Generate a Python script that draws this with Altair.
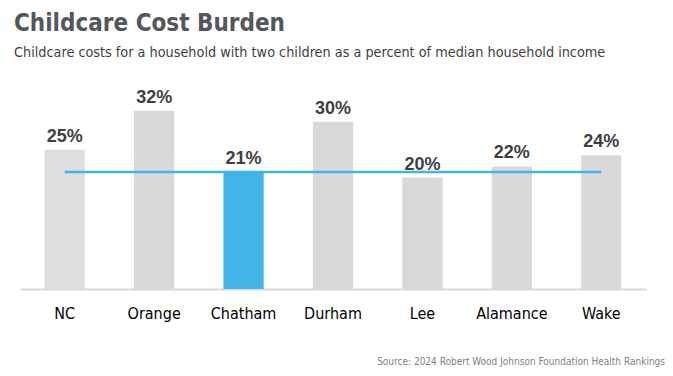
import altair as alt
import pandas as pd

categories = ["NC", "Orange", "Chatham", "Durham", "Lee", "Alamance", "Wake"]
values = [25, 32, 21, 30, 20, 22, 24]
labels = ["25%", "32%", "21%", "30%", "20%", "22%", "24%"]
highlight = "Chatham"
reference_value = 21

title_text = "Childcare Cost Burden"
subtitle_text = "Childcare costs for a household with two children as a percent of median household income"
source_text = "Source: 2024 Robert Wood Johnson Foundation Health Rankings"

NARROW = "DejaVu Sans Condensed"

df = pd.DataFrame({"county": categories, "value": values, "label": labels})
df["kind"] = ["state" if c == "NC" else ("focus" if c == highlight else "other") for c in categories]
ref_df = pd.DataFrame({"county": categories, "ref": [reference_value] * len(categories)})

x_enc = alt.X("county:N", sort=categories,
              scale=alt.Scale(paddingInner=0.55, paddingOuter=0.275),
              axis=alt.Axis(title=None, labelAngle=0, ticks=False, domain=True,
                            domainColor="#d9d9d9", domainWidth=2,
                            labelFont=NARROW, labelFontSize=16,
                            labelColor="#000000", labelPadding=16))
y_scale = alt.Scale(domain=[0, 35])

bars = alt.Chart(df).mark_bar().encode(
    x=x_enc,
    y=alt.Y("value:Q", scale=y_scale, axis=None),
    color=alt.Color("kind:N",
                    scale=alt.Scale(domain=["state", "focus", "other"],
                                    range=["#dedede", "#41b6e6", "#d9d9d9"]),
                    legend=None),
)

text = alt.Chart(df).mark_text(baseline="bottom", dy=-4, font="Liberation Sans",
                               fontWeight="bold", fontSize=18, color="#404040").encode(
    x=alt.X("county:N", sort=categories),
    y=alt.Y("value:Q", scale=y_scale),
    text="label:N",
)

ref_line = alt.Chart(ref_df).mark_line(color="#41b6e6", strokeWidth=2.5).encode(
    x=alt.X("county:N", sort=categories),
    y=alt.Y("ref:Q", scale=y_scale),
)

source = alt.Chart(pd.DataFrame({"t": [source_text]})).mark_text(
    align="right", baseline="alphabetic", font=NARROW, fontSize=10,
    color="#7f7f7f").encode(
    x=alt.value(645), y=alt.value(271), text="t:N")

chart = alt.layer(bars, ref_line, text, source).properties(
    width=626, height=195,
    background="white",
    title=alt.TitleParams(text=title_text, subtitle=subtitle_text, anchor="start",
                          dx=-6, offset=28,
                          font=NARROW, fontSize=24, fontWeight="bold",
                          color="#53565a", subtitleFont=NARROW,
                          subtitleFontSize=14.3, subtitleColor="#404040", subtitlePadding=10),
    padding={"left": 12, "top": 86, "right": 19, "bottom": 79},
    autosize=alt.AutoSizeParams(type="none"),
).configure_view(stroke=None)

chart.save("out.html", embed_options={"renderer": "svg", "actions": False})
